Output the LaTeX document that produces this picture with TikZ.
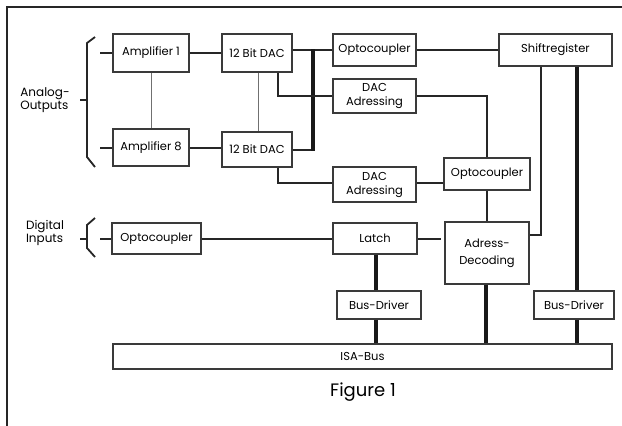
\documentclass[tikz,border=0pt]{standalone}
\usepackage{fontspec}
\setmainfont{Poppins}
\usepackage{tikz}
\usetikzlibrary{calc,positioning}
\definecolor{boxline}{HTML}{3A3A3A}
\definecolor{linkgray}{HTML}{707070}
\tikzset{
  blockbox/.style = {draw=boxline, line width=1.1pt, inner sep=0pt, align=center,
                     font=\fontsize{11.5}{14}\selectfont},
  wire/.style     = {line width=2pt, black!85},
  busline/.style  = {line width=4.2pt, black!90},
  samerow/.style  = {line width=0.9pt, linkgray},
  brace/.style    = {line width=1.8pt, black!85},
  sidelab/.style  = {align=left, font=\fontsize{12}{13.5}\selectfont},
}
\begin{document}
\begin{tikzpicture}[x=1pt, y=-1pt]
  \useasboundingbox (0, 0) rectangle (622, 426);
  % frame
  \draw[line width=1.2pt, black!85] (7, 426) -- (7, 7) -- (622, 7);

  % analog side
  \node[blockbox, minimum width=76, minimum height=38] (amp1) at (151, 53) {Amplifier 1};
  \node[blockbox, minimum width=76, minimum height=37] (amp8) at (151, 147.5) {Amplifier 8};
  \node[blockbox, minimum width=70, minimum height=38] (dac1) at (257, 53) {12 Bit DAC};
  \node[blockbox, minimum width=70, minimum height=35] (dac2) at (257, 149.5) {12 Bit DAC};
  \node[blockbox, minimum width=83, minimum height=32] (opto1) at (374.5, 50) {Optocoupler};
  \node[blockbox, minimum width=83, minimum height=34] (adr1) at (374.5, 96) {DAC\\Adressing};
  \node[blockbox, minimum width=113, minimum height=32] (shift) at (555.5, 50) {Shiftregister};
  \node[blockbox, minimum width=83, minimum height=35] (adr2) at (374.5, 184.5) {DAC\\Adressing};
  \node[blockbox, minimum width=86, minimum height=32] (opto2) at (487, 174) {Optocoupler};

  % digital side
  \node[blockbox, minimum width=89, minimum height=31] (optoin) at (156.5, 238.5) {Optocoupler};
  \node[blockbox, minimum width=84, minimum height=31] (latch) at (375, 238.5) {Latch};
  \node[blockbox, minimum width=84, minimum height=62] (dec) at (487, 253) {Adress-\\[3pt]Decoding};
  \node[blockbox, minimum width=84, minimum height=28] (bd1) at (379, 305) {Bus-Driver};
  \node[blockbox, minimum width=80, minimum height=28] (bd2) at (574, 305) {Bus-Driver};
  \node[blockbox, minimum width=499, minimum height=25] (isa) at (362.5, 356.5) {ISA-Bus};
  \node[font=\fontsize{18}{20}\selectfont] (caption) at (363, 392) {Figure 1};

  \node[sidelab] (anlab) at (45, 100) {Analog-\\Outputs};
  \node[sidelab] (diglab) at (45, 233) {Digital\\Inputs};

  % brackets
  \draw[brace] (95, 37) -- (87, 43) -- (87, 157) -- (95, 167);
  \draw[brace] (80, 100) -- (87, 100);
  \draw[brace] (100, 53) -- (amp1.west);
  \draw[brace] (100, 148) -- (amp1.west |- 0, 148);
  \draw[brace] (95, 218) -- (87, 225) -- (87, 248) -- (95, 257);
  \draw[brace] (80, 239) -- (87, 239);
  \draw[brace] (100, 239) -- (optoin.west |- 0, 239);

  % analog wiring
  \draw[wire] (amp1.east) -- (dac1.west);
  \draw[wire] (amp8.east |- 0, 148) -- (dac2.west |- 0, 148);
  \draw[samerow] (amp1.south) -- (amp8.north);
  \draw[samerow] ([xshift=1pt]dac1.south) -- ([xshift=1pt]dac2.north);
  \coordinate (bustop) at (313, 50);
  \coordinate (busbot) at (313, 150);
  \draw[wire] (dac1.east |- bustop) -- (opto1.west |- bustop);
  \draw[wire] (dac2.east |- busbot) -- (busbot);
  \draw[busline] ([yshift=1pt]bustop) -- ([yshift=-1pt]busbot);
  \draw[wire] ([xshift=21pt]dac1.south) |- (adr1.west);
  \draw[wire] ([xshift=21pt]dac2.south) |- ([yshift=2pt]adr2.west);
  \draw[wire] (opto1.east) -- (shift.west);
  \draw[wire] (adr1.east) -| (opto2.north);
  \draw[wire] ([yshift=2pt]adr2.east) -- ([yshift=2pt]adr2.east -| opto2.west);
  \draw[wire] (opto2.south) -- (dec.north);
  \draw[wire] ([xshift=-14.5pt]shift.south) |- ([yshift=18pt]dec.east);
  \draw[busline] ([xshift=21.5pt]shift.south) -- ([xshift=21.5pt]shift.south |- bd2.north);
  \draw[busline] ([xshift=21.5pt]shift.south |- bd2.south) -- ([xshift=21.5pt]shift.south |- isa.north);

  % digital wiring
  \draw[wire] (optoin.east) -- (latch.west);
  \draw[wire, shorten >=3pt] (latch.east) -- (dec.west |- latch.east);
  \draw[busline] ([xshift=1pt]latch.south) -- ([xshift=1pt]latch.south |- bd1.north);
  \draw[busline] ([xshift=1pt]latch.south |- bd1.south) -- ([xshift=1pt]latch.south |- isa.north);
  \draw[busline] ([xshift=-1pt]dec.south) -- ([xshift=-1pt]dec.south |- isa.north);
\end{tikzpicture}
\end{document}
